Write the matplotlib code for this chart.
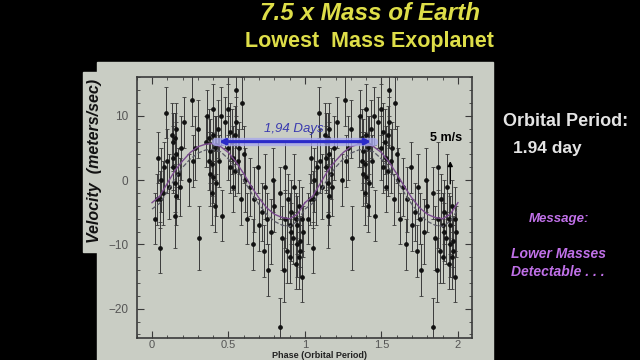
import numpy as np
import matplotlib
matplotlib.use("Agg")
import matplotlib.pyplot as plt
from matplotlib.patches import Rectangle
from matplotlib.ticker import MultipleLocator

plt.rcParams["font.family"] = ["Liberation Sans", "DejaVu Sans"]

# phase-folded radial velocities (one orbit, drawn twice)
phase = [0.02, 0.03, 0.04, 0.05, 0.05, 0.06, 0.07, 0.08, 0.09, 0.10, 0.11,
         0.13, 0.14, 0.14, 0.15, 0.15, 0.16, 0.16, 0.17, 0.18, 0.19,
         0.14, 0.15, 0.16,
         0.21, 0.24, 0.26, 0.27, 0.28,
         0.30, 0.31, 0.35, 0.36, 0.37, 0.38, 0.38, 0.39, 0.40, 0.40, 0.41,
         0.41, 0.42, 0.43, 0.44, 0.45, 0.46,
         0.37, 0.39, 0.40, 0.42,
         0.48, 0.50, 0.50, 0.51, 0.52, 0.53, 0.54, 0.55, 0.55, 0.56, 0.57,
         0.58, 0.59, 0.60, 0.61, 0.62,
         0.51, 0.53, 0.54,
         0.64, 0.66, 0.67, 0.69, 0.70, 0.72, 0.73, 0.74, 0.75, 0.76, 0.78,
         0.79, 0.80,
         0.84, 0.84, 0.85, 0.86, 0.87, 0.87, 0.88, 0.89, 0.90, 0.90, 0.91,
         0.92, 0.93, 0.94, 0.95, 0.95, 0.96, 0.97, 0.98, 0.98, 0.99,
         0.91, 0.94, 0.96, 0.97]
velocity = [-6.0, -3.0, 3.5, -10.5, -3.0, 0.0, -2.0, 2.0, 10.5, 3.0, -1.0,
            7.0, 6.0, 2.0, -0.5, -5.5, 4.0, 8.0, 1.0, -1.0, 5.0,
            3.5, 6.5, -2.5,
            9.0, 0.0, 12.5, 3.0, 5.0,
            8.0, -9.0, 6.0, 10.0, 3.0, 1.0, 4.5, -2.0, 11.0, 7.0, -4.0,
            5.0, -0.5, 8.0, 3.0, 10.0, -5.5,
            6.5, 2.5, 0.5, 5.5,
            9.0, 5.0, 11.0, 2.0, 6.0, -1.0, 7.0, 14.0, 9.0, 3.0, 5.0,
            -3.0, 12.0, 4.0, 0.0, -6.0,
            7.5, 3.5, 1.5,
            -1.0, -10.0, -3.0, 2.0, -7.0, -5.0, -11.0, -1.0, -6.0, -14.0, -8.0,
            0.0, -4.0,
            -22.8, -2.0, -9.0, -14.0, 2.0, -6.0, -11.0, -3.0, -7.0, -12.0, -5.0,
            -9.0, -1.0, -13.0, -7.0, -10.0, -4.0, -11.0, -15.0, -6.0, -8.0,
            -8.0, -6.0, -12.0, -9.5]
error = [4.0, 4.0, 4.0, 4.0, 4.5, 5.0, 5.0, 4.0, 4.0, 5.0, 5.0,
         5.0, 4.5, 4.0, 4.5, 5.0, 5.0, 4.0, 4.0, 4.5, 5.0,
         5.0, 4.0, 4.5,
         4.0, 4.0, 4.0, 4.0, 5.0,
         4.5, 5.0, 4.0, 4.0, 4.5, 5.0, 5.0, 5.0, 4.0, 4.0, 4.0,
         5.0, 5.0, 4.5, 4.0, 4.5, 4.0,
         4.5, 5.0, 4.0, 4.5,
         4.0, 5.0, 4.0, 4.0, 5.0, 4.0, 4.5, 4.0, 4.0, 5.0, 4.0,
         4.0, 4.0, 4.5, 5.0, 4.0,
         4.5, 5.0, 4.0,
         4.5, 4.0, 5.0, 4.0, 4.0, 4.5, 4.0, 5.0, 4.0, 4.0, 5.0,
         5.0, 4.0,
         4.5, 4.0, 5.0, 5.0, 4.0, 4.5, 5.0, 4.0, 5.0, 4.0, 5.0,
         4.0, 5.0, 4.0, 4.5, 5.0, 4.0, 4.0, 4.0, 5.0, 4.0,
         4.5, 4.0, 5.0, 4.0]

# fitted orbit
fit_phase = [0.0, 0.05, 0.10, 0.15, 0.20, 0.25, 0.30, 0.35, 0.40, 0.45, 0.50,
             0.55, 0.60, 0.65, 0.70, 0.75, 0.80, 0.85, 0.90, 0.95, 1.0]
fit_v = [-3.5, -2.5, -0.5, 1.5, 3.0, 4.3, 5.2, 5.6, 5.7, 5.2, 4.3,
         2.8, 1.0, -1.0, -2.8, -4.3, -5.3, -5.8, -6.0, -5.3, -3.5]
fit_v2 = [-4.5, -3.6, -1.8, 0.3, 2.0, 3.3, 4.2, 4.7, 4.8, 4.4, 3.3,
          1.8, 0.0, -2.0, -3.8, -5.3, -6.4, -7.0, -7.2, -6.4, -4.5]

xticks = [0, 0.5, 1, 1.5, 2]
xtick_labels = ["0", "0.5", "1", "1.5", "2"]
yticks = [-20, -10, 0, 10]

fig = plt.figure(figsize=(6.4, 3.6), dpi=100, facecolor="black")

def px(x, y):
    return x / 640, 1 - y / 360

panel = "#c9cdc4"
fig.patches.append(Rectangle(px(97, 360), 396 / 640, 298 / 360,
                             transform=fig.transFigure, color=panel, zorder=-5))
fig.patches.append(Rectangle(px(83, 252), 20 / 640, 180 / 360,
                             transform=fig.transFigure, color=panel, zorder=-5))

ax = fig.add_axes([136.7 / 640, 1 - 338.3 / 360, 335 / 640, 261.6 / 360])
ax.set_facecolor(panel)
for sp in ax.spines.values():
    sp.set_color("#3a3a3a")
    sp.set_linewidth(1.2)

ph = np.array(phase)
v = np.array(velocity)
e = np.array(error)
for shift in (0, 1):
    ax.errorbar(ph + shift, v, yerr=e, fmt="o", ms=2.4, color="#111111",
                ecolor="#3a3a3a", elinewidth=0.7, capsize=1.2, capthick=0.6)
    ax.plot(np.array(fit_phase) + shift, fit_v, color="#7a4a8e", lw=1.0, zorder=4)
    ax.plot(np.array(fit_phase) + shift, fit_v2, color="#5a5a66", lw=0.9,
            ls="--", zorder=4)

# period arrow
ax.plot([0.42, 1.45], [6.0, 6.0], color="#a8a8ec", lw=6, solid_capstyle="round",
        zorder=5, alpha=0.8)
ax.annotate("", xy=(1.45, 6.0), xytext=(0.42, 6.0),
            arrowprops=dict(arrowstyle="<->", color="#2a2ac8", lw=2.2,
                            mutation_scale=8), zorder=6)
ax.text(0.93, 7.9, "1,94 Days", color="#3a3ab0", fontsize=9.5,
        fontstyle="italic", ha="center", va="center", zorder=7)

# amplitude arrow
ax.annotate("", xy=(1.95, 3.4), xytext=(1.95, -1.0),
            arrowprops=dict(arrowstyle="-|>", color="black", lw=1.0,
                            mutation_scale=7), zorder=6)
ax.text(1.92, 6.5, "5 m/s", color="black", fontsize=9, fontweight="bold",
        ha="center", va="center", zorder=7)

ax.set_xlim(-0.1, 2.09)
ax.set_ylim(-24.6, 16.1)
ax.set_xticks(xticks)
ax.set_xticklabels(xtick_labels)
ax.set_yticks(yticks)
ax.xaxis.set_minor_locator(MultipleLocator(0.1))
ax.yaxis.set_minor_locator(MultipleLocator(2))
ax.tick_params(which="both", direction="in", top=True, right=True,
               colors="#3a3a3a", labelcolor="#555555", labelsize=8.5)
ax.tick_params(axis="y", pad=6)
ax.tick_params(axis="x", pad=1, labelsize=8)
ax.tick_params(which="major", length=5)
ax.tick_params(which="minor", length=2.5)

fig.text(*px(95, 161), "Velocity  (meters/sec)", rotation=90, fontsize=11.5,
         fontweight="bold", fontstyle="italic", color="#111111",
         ha="center", va="center")
fig.text(*px(320, 359.5), "Phase (Orbital Period)", fontsize=6.5,
         fontweight="bold", color="#222222", ha="center", va="bottom")

yellow = "#dede48"
fig.text(*px(370, 13), "7.5 x Mass of Earth", fontsize=17.5, fontweight="bold",
         fontstyle="italic", color=yellow, ha="center", va="center")
fig.text(*px(369, 42), "Lowest  Mass Exoplanet", fontsize=15.5,
         fontweight="bold", color=yellow, ha="center", va="center")

fig.text(*px(566, 122), "Orbital Period:", fontsize=13, fontweight="bold",
         color="#e4e4e4", ha="center", va="center")
fig.text(*px(513, 148), "1.94 day", fontsize=12.5, fontweight="bold",
         color="#e4e4e4", ha="left", va="center")

purple = "#c070e8"
fig.text(*px(559, 219), "Message:", fontsize=9.5, fontweight="bold",
         fontstyle="italic", color=purple, ha="center", va="center")
fig.text(*px(511, 254), "Lower Masses", fontsize=10, fontweight="bold",
         fontstyle="italic", color=purple, ha="left", va="center")
fig.text(*px(511, 272), "Detectable . . .", fontsize=10, fontweight="bold",
         fontstyle="italic", color=purple, ha="left", va="center")

fig.savefig("out.png", dpi=100, facecolor="black")
